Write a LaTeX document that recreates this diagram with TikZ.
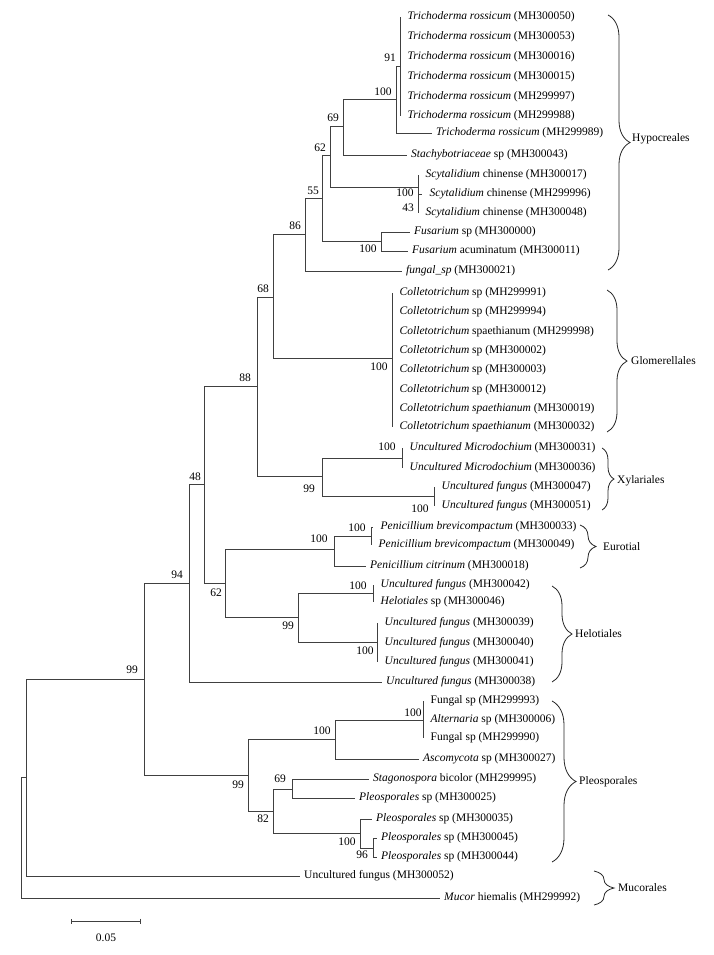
\documentclass[tikz,border=0pt]{standalone}
\usepackage{fontspec}
\setmainfont{Liberation Serif}
\usetikzlibrary{arrows.meta,positioning,decorations.pathreplacing}
\newcommand{\treefont}{\fontsize{11.5}{13}\selectfont}
\tikzset{
  br/.style={draw=black!75, line width=0.9pt},
  leaf/.style={anchor=west, inner xsep=4pt, inner ysep=0pt, font=\treefont},
  polyleaf/.style={leaf, inner xsep=7.5pt},
  bs/.style={inner sep=1pt, font=\treefont},
  clade/.style={decorate, decoration={brace, amplitude=#1}, draw=black!85, line width=0.8pt},
  clade/.default=20,
  cladename/.style={anchor=west, inner sep=1pt, font=\treefont},
}

\begin{document}
\begin{tikzpicture}[x=1pt,y=-1pt]
  \useasboundingbox (0,0) rectangle (713,955);
  \foreach \nm/\px/\py in {root/21/837, n26/26/777, n99a/144/679, n94/189/583,
      n48/204/484, n88/257/386, n68/273/297, n86/305/234, n55/322/198,
      n62a/330/155, n69a/343/126, nT/396/99, nTp/400/66, nScy/418/187,
      nFus/381/241, nCol/392/358, nXyl/322/476, nMic/402/458, nUnf/434/496,
      n62b/225/583, nPen/334/549, nPb/371/536, nHel/298/617, nH1/373/593,
      nH2/377/642, nPl/248/775, nA/335/739, nB/423/720, n82/273/811,
      n69p/292/789, n100p/360/833, n96/373/848}
    \coordinate (\nm) at (\px,\py);
  \foreach \nm/\st/\px/\py/\txt in {
      t1/polyleaf/400/17/{\textit{Trichoderma rossicum} (MH300050)},
      t2/polyleaf/400/37/{\textit{Trichoderma rossicum} (MH300053)},
      t3/polyleaf/400/57/{\textit{Trichoderma rossicum} (MH300016)},
      t4/polyleaf/400/77/{\textit{Trichoderma rossicum} (MH300015)},
      t5/polyleaf/400/97/{\textit{Trichoderma rossicum} (MH299997)},
      t6/polyleaf/400/116/{\textit{Trichoderma rossicum} (MH299988)},
      t7/leaf/432/133/{\textit{Trichoderma rossicum} (MH299989)},
      stachy/leaf/407/155/{\textit{Stachybotriaceae} sp (MH300043)},
      s1/polyleaf/418/175/{\textit{Scytalidium} chinense (MH300017)},
      s2/polyleaf/422/194/{\textit{Scytalidium} chinense (MH299996)},
      s3/polyleaf/418/213/{\textit{Scytalidium} chinense (MH300048)},
      f1/leaf/410/232/{\textit{Fusarium} sp (MH300000)},
      f2/leaf/408/251/{\textit{Fusarium} acuminatum (MH300011)},
      fungal/leaf/402/271/{\textit{fungal\_sp} (MH300021)},
      c1/polyleaf/392/293/{\textit{Colletotrichum} sp (MH299991)},
      c2/polyleaf/392/312/{\textit{Colletotrichum} sp (MH299994)},
      c3/polyleaf/392/332/{\textit{Colletotrichum} spaethianum (MH299998)},
      c4/polyleaf/392/351/{\textit{Colletotrichum} sp (MH300002)},
      c5/polyleaf/392/370/{\textit{Colletotrichum} sp (MH300003)},
      c6/polyleaf/392/390/{\textit{Colletotrichum} sp (MH300012)},
      c7/polyleaf/392/409/{\textit{Colletotrichum spaethianum} (MH300019)},
      c8/polyleaf/392/427/{\textit{Colletotrichum spaethianum} (MH300032)},
      x1/polyleaf/402/448/{\textit{Uncultured Microdochium} (MH300031)},
      x2/polyleaf/402/468/{\textit{Uncultured Microdochium} (MH300036)},
      x3/polyleaf/434/487/{\textit{Uncultured fungus} (MH300047)},
      x4/polyleaf/434/506/{\textit{Uncultured fungus} (MH300051)},
      e1/polyleaf/373/527/{\textit{Penicillium brevicompactum} (MH300033)},
      e2/polyleaf/371/545/{\textit{Penicillium brevicompactum} (MH300049)},
      e3/leaf/366/566/{\textit{Penicillium citrinum} (MH300018)},
      h1/polyleaf/373/585/{\textit{Uncultured fungus} (MH300042)},
      h2/polyleaf/373/602/{\textit{Helotiales} sp (MH300046)},
      h3/polyleaf/377/623/{\textit{Uncultured fungus} (MH300039)},
      h4/polyleaf/377/643/{\textit{Uncultured fungus} (MH300040)},
      h5/polyleaf/377/662/{\textit{Uncultured fungus} (MH300041)},
      h6/leaf/382/682/{\textit{Uncultured fungus} (MH300038)},
      p1/polyleaf/423/701/{Fungal sp (MH299993)},
      p2/polyleaf/423/720/{\textit{Alternaria} sp (MH300006)},
      p3/polyleaf/423/738/{Fungal sp (MH299990)},
      p4/leaf/419/759/{\textit{Ascomycota} sp (MH300027)},
      p5/leaf/369/779/{\textit{Stagonospora} bicolor (MH299995)},
      p6/leaf/355/798/{\textit{Pleosporales} sp (MH300025)},
      p7/leaf/372/819/{\textit{Pleosporales} sp (MH300035)},
      p8/leaf/377/838/{\textit{Pleosporales} sp (MH300045)},
      p9/leaf/377/857/{\textit{Pleosporales} sp (MH300044)},
      unc52/leaf/300/876/{Uncultured fungus (MH300052)},
      mucor/leaf/440/898/{\textit{Mucor} hiemalis (MH299992)}}
    \node[\st] (\nm) at (\px,\py) {\txt};
  \foreach \a/\b in {root/n26, root/mucor, n26/n99a, n26/unc52, n99a/n94, n99a/nPl,
      n94/n48, n94/h6, n48/n88, n48/n62b, n88/n68, n88/nXyl, n68/n86, n68/nCol,
      n86/n55, n86/fungal, n55/n62a, n55/nFus, n62a/n69a, n62a/nScy,
      n69a/nT, n69a/stachy, nT/nTp, nT/t7, nTp/t1, nTp/t2, nTp/t3, nTp/t4,
      nTp/t5, nTp/t6, nScy/s1, nScy/s2, nScy/s3, nFus/f1, nFus/f2,
      nCol/c1, nCol/c2, nCol/c3, nCol/c4, nCol/c5, nCol/c6, nCol/c7, nCol/c8,
      nXyl/nMic, nXyl/nUnf, nMic/x1, nMic/x2, nUnf/x3, nUnf/x4,
      n62b/nPen, n62b/nHel, nPen/nPb, nPen/e3, nPb/e1, nPb/e2,
      nHel/nH1, nHel/nH2, nH1/h1, nH1/h2, nH2/h3, nH2/h4, nH2/h5,
      nPl/nA, nPl/n82, nA/nB, nA/p4, nB/p1, nB/p2, nB/p3,
      n82/n69p, n82/n100p, n69p/p5, n69p/p6, n100p/p7, n100p/n96, n96/p8, n96/p9}
    \draw[br] (\a) |- (\b);
  \foreach \nm/\px/\py/\v in {b91/390/58/91, bT/383/92/100, b69/333/118/69,
      b62/320/148/62, bScy/405/193/100, b43/408/208/43, b55/313/191/55,
      b86/295/226/86, bFus/368/249/100, b68/263/289/68, bCol/379/367/100,
      b88/245/378/88, bMic/387/447/100, bXyl/309/489/99, bUnf/420/509/100,
      b48/195/477/48, bPb/357/528/100, bPen/319/539/100, b62b/216/593/62,
      bH1/358/586/100, bHel/288/626/99, bH2/365/651/100, b94/177/575/94,
      b99a/132/670/99, bB/413/713/100, bA/322/731/100, bPl/238/785/99,
      b69p/280/779/69, b82/263/819/82, b100p/347/842/100, b96/362/855/96}
    \node[bs] (\nm) at (\px,\py) {\v};
  \draw[clade=22] (608,15) -- (608,270);
  \node[cladename] (hypo) at (631,139) {Hypocreales};
  \draw[clade=20] (607,290) -- (607,432);
  \node[cladename] (glom) at (630,361) {Glomerellales};
  \draw[clade=12] (602,448) -- (602,510);
  \node[cladename] (xyla) at (616,481) {Xylariales};
  \draw[clade=16] (580,525) -- (580,568);
  \node[cladename] (euro) at (602,547) {Eurotial};
  \draw[clade=20] (552,586) -- (552,682);
  \node[cladename] (helo) at (574,634) {Helotiales};
  \draw[clade=24] (552,701) -- (552,862);
  \node[cladename] (pleo) at (578,782) {Pleosporales};
  \draw[clade=20] (594,871) -- (594,905);
  \node[cladename] (muco) at (617,888) {Mucorales};
  \coordinate (sbL) at (71,921);
  \coordinate (sbR) at (141,921);
  \draw[br, {Bar[width=5pt]}-{Bar[width=5pt]}] (sbL) -- (sbR);
  \node[bs] (sbtxt) at (106,938) {0.05};
\end{tikzpicture}
\end{document}
